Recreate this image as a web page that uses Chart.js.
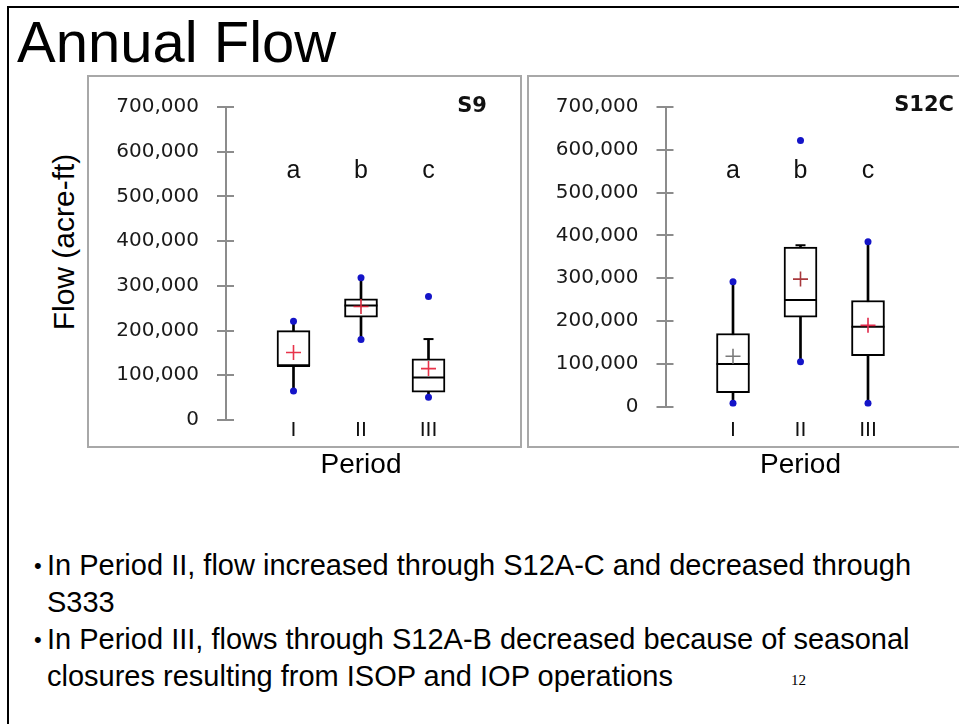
<!DOCTYPE html>
<html>
<head>
<meta charset="utf-8">
<title>Annual Flow</title>
<script src="https://cdn.jsdelivr.net/npm/chart.js@4.4.1/dist/chart.umd.min.js"></script>
<style>
  body { margin: 0; background: #fff; }
  #slide { position: relative; width: 959px; height: 724px; overflow: hidden; background: #fff;
           font-family: "Liberation Sans", Arial, sans-serif; color: #000; }
  .frame { position: absolute; left: 7px; top: 6px; width: 1000px; height: 800px;
           border-left: 2px solid #000; border-top: 2px solid #000; }
  .title { position: absolute; left: 17px; top: 13px; font-size: 58px; line-height: 58px; white-space: nowrap; }
  .panel { position: absolute; border: 2px solid #a8a8a8; box-sizing: border-box; }
  canvas { position: absolute; }
  .site { position: absolute; font-family: "DejaVu Sans", sans-serif; font-weight: bold; font-size: 21px;
          line-height: 21px; white-space: nowrap; color: #111; }
  .ytitle { position: absolute; left: 64px; top: 242px; font-size: 30px; line-height: 30px; white-space: nowrap;
            transform: translate(-50%, -50%) rotate(-90deg); }
  .bullet { position: absolute; left: 47px; font-size: 29px; line-height: 37px; white-space: nowrap; }
  .bullet .dot { position: absolute; left: -13px; top: 0; font-size: 22px; }
  .pagenum { position: absolute; left: 791px; top: 672px; font-family: "Liberation Serif", serif; font-size: 15px; }
</style>
</head>
<body>
<div id="slide">
  <div class="frame"></div>
  <div class="title">Annual Flow</div>

  <div class="panel" style="left:87px; top:75px; width:435px; height:373px;"></div>
  <div class="panel" style="left:527px; top:75px; width:450px; height:373px;"></div>

  <canvas id="chartS9" width="430" height="410" style="left:89px; top:77px;"></canvas>
  <canvas id="chartS12C" width="429" height="410" style="left:530px; top:77px;"></canvas>

  <div class="site" style="right:472px; top:95px;">S9</div>
  <div class="site" style="right:5px; top:94px;">S12C</div>

  <div class="ytitle">Flow (acre-ft)</div>

  <div class="bullet" style="top:547px;"><span class="dot">•</span>In Period II, flow increased through S12A-C and decreased through<br>S333</div>
  <div class="bullet" style="top:621px;"><span class="dot">•</span>In Period III, flows through S12A-B decreased because of seasonal<br>closures resulting from ISOP and IOP operations</div>
  <div class="pagenum">12</div>
</div>

<script>
// categories and tick labels
const periods = ['I', 'II', 'III'];
const groupLetters = ['a', 'b', 'c'];
const yTicks = [0, 100000, 200000, 300000, 400000, 500000, 600000, 700000];

// S9 annual flow (acre-ft)
const s9Q1 = [121000, 230000, 62000];
const s9Median = [121000, 256000, 95000];
const s9Q3 = [200000, 271000, 137000];
const s9Mean = [151000, 254000, 115000];
const s9WhiskerLow = [65000, 180000, 51000];
const s9WhiskerHigh = [221000, 318000, 181000];
const s9Dots = [[65000, 221000], [180000, 318000], [51000, 276000]];
const s9Caps = [null, null, 181000];

// S12C annual flow (acre-ft)
const s12cQ1 = [33000, 209000, 119000];
const s12cMedian = [100000, 249000, 187000];
const s12cQ3 = [171000, 373000, 248000];
const s12cMean = [118000, 298000, 190000];
const s12cWhiskerLow = [8000, 105000, 8000];
const s12cWhiskerHigh = [292000, 377000, 385000];
const s12cDots = [[8000, 292000], [105000, 622000], [8000, 385000]];
const s12cCaps = [null, 377000, null];

const axisGrey = '#8c8c8c';

// little tick marks on the inner side of the y axis + the a/b/c letters
const extrasPlugin = {
  id: 'extras',
  afterDraw(chart, args, opts) {
    const ctx = chart.ctx;
    const xs = chart.scales.x, ys = chart.scales.y;
    const left = chart.chartArea.left;
    ctx.save();
    ctx.strokeStyle = axisGrey;
    ctx.lineWidth = 2;
    ys.ticks.forEach(t => {
      const y = Math.round(ys.getPixelForValue(t.value));
      ctx.beginPath();
      ctx.moveTo(left, y);
      ctx.lineTo(left + 8, y);
      ctx.stroke();
    });
    ctx.fillStyle = '#111';
    ctx.font = '25px "Liberation Sans", Arial, sans-serif';
    ctx.textAlign = 'center';
    ctx.textBaseline = 'alphabetic';
    groupLetters.forEach((l, i) => {
      ctx.fillText(l, xs.getPixelForValue(i + 1), ys.getPixelForValue(opts.letterAt));
    });
    ctx.restore();
  }
};

function boxDatasets(q1, med, q3, lo, hi, mean, dots, caps, meanColors) {
  const xs = periods.map((p, i) => i + 1);
  const dotPts = [];
  dots.forEach((arr, i) => arr.forEach(v => dotPts.push({ x: i + 1, y: v })));
  const capPts = [];
  caps.forEach((v, i) => { if (v !== null) capPts.push({ x: i + 1, y: v }); });
  return [
    { type: 'bar', data: xs.map((x, i) => ({ x: x, y: [lo[i], hi[i]] })),
      backgroundColor: '#000', borderWidth: 0, barThickness: 2, grouped: false, order: 6 },
    { type: 'bar', data: xs.map((x, i) => ({ x: x, y: [q1[i], q3[i]] })),
      backgroundColor: '#fff', borderColor: '#000', borderWidth: 2, borderSkipped: false,
      barThickness: 33, grouped: false, order: 5 },
    { type: 'line', data: xs.map((x, i) => ({ x: x, y: med[i] })), showLine: false,
      pointStyle: 'line', pointRadius: 16.5, pointBorderColor: '#000', pointBorderWidth: 2, order: 4 },
    { type: 'line', data: capPts, showLine: false,
      pointStyle: 'line', pointRadius: 5, pointBorderColor: '#000', pointBorderWidth: 2, order: 4 },
    { type: 'line', data: dotPts, showLine: false,
      pointStyle: 'circle', pointRadius: 3.5, pointBackgroundColor: '#1414c8', pointBorderColor: '#1414c8',
      pointBorderWidth: 0, order: 2 },
    { type: 'line', data: xs.map((x, i) => ({ x: x, y: mean[i] })), showLine: false,
      pointStyle: 'cross', pointRadius: 7.5, pointBorderColor: meanColors, pointBorderWidth: 1.6, order: 1 }
  ];
}

function makeChart(id, datasets, layout) {
  return new Chart(document.getElementById(id), {
    type: 'bar',
    data: { datasets: datasets },
    plugins: [extrasPlugin],
    options: {
      responsive: false,
      animation: false,
      events: [],
      layout: { padding: { top: layout.top, right: layout.right, bottom: 0, left: 0 } },
      plugins: {
        legend: { display: false },
        tooltip: { enabled: false },
        extras: { letterAt: layout.letterAt }
      },
      scales: {
        x: {
          type: 'linear', min: 0, max: 4, offset: false,
          afterBuildTicks: s => { s.ticks = periods.map((p, i) => ({ value: i + 1 })); },
          afterFit: s => { s.height = layout.xHeight; },
          ticks: {
            callback: v => periods[v - 1],
            font: { family: 'DejaVu Sans', size: 20 }, color: '#111', padding: layout.xPad,
            maxRotation: 0, autoSkip: false
          },
          grid: { display: false, drawTicks: false },
          border: { display: false },
          title: { display: true, text: 'Period', color: '#000',
                   font: { family: 'Liberation Sans', size: 28 }, padding: { top: 0, bottom: 5 } }
        },
        y: {
          min: 0, max: 700000,
          afterBuildTicks: s => { s.ticks = yTicks.map(v => ({ value: v })); },
          afterFit: s => { s.width = layout.yWidth; },
          ticks: {
            callback: v => v.toLocaleString('en-US'),
            font: { family: 'DejaVu Sans', size: 20 }, color: '#1a1a1a', padding: 18
          },
          grid: { drawOnChartArea: false, drawTicks: true, tickLength: 9, color: axisGrey, lineWidth: 2 },
          border: { display: true, color: axisGrey, width: 2 }
        }
      }
    }
  });
}

const s9Chart = makeChart('chartS9',
  boxDatasets(s9Q1, s9Median, s9Q3, s9WhiskerLow, s9WhiskerHigh, s9Mean, s9Dots, s9Caps,
              ['#e8334a', '#d42a3c', '#e8334a']),
  { top: 25.7, right: 23, yWidth: 137, xHeight: 67, xPad: -1, letterAt: 542000 });

const s12cChart = makeChart('chartS12C',
  boxDatasets(s12cQ1, s12cMedian, s12cQ3, s12cWhiskerLow, s12cWhiskerHigh, s12cMean, s12cDots, s12cCaps,
              ['#7a7a7a', '#a8383c', '#e0284a']),
  { top: 24.7, right: 23.5, yWidth: 135.5, xHeight: 80.3, xPad: 12, letterAt: 534500 });
</script>
</body>
</html>
